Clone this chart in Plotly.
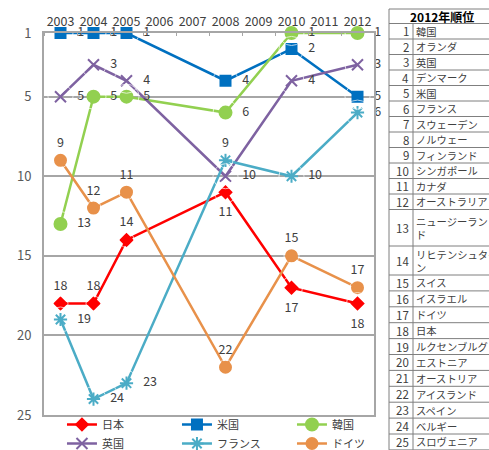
import plotly.graph_objects as go

years = [2003, 2004, 2005, 2008, 2010, 2012]
all_years = list(range(2003, 2013))

japan = [18, 18, 14, 11, 17, 18]
usa = [1, 1, 1, 4, 2, 5]
korea = [13, 5, 5, 6, 1, 1]
uk = [5, 3, 4, 10, 4, 3]
france = [19, 24, 23, 9, 10, 6]
germany = [9, 12, 11, 22, 15, 17]

rank_ticks = [1, 5, 10, 15, 20, 25]

table_title = "2012年順位"
table_ranks = list(range(1, 26))
table_names = ["韓国", "オランダ", "英国", "デンマーク", "米国", "フランス", "スウェーデン",
               "ノルウェー", "フィンランド", "シンガポール", "カナダ", "オーストラリア",
               "ニュージーラン<br>ド", "リヒテンシュタイ<br>ン", "スイス", "イスラエル", "ドイツ",
               "日本", "ルクセンブルグ", "エストニア", "オーストリア", "アイスランド",
               "スペイン", "ベルギー", "スロヴェニア"]

FONT = "Noto Sans CJK JP, Noto Sans, sans-serif"
TXT = "#404040"

T_, B_, R_ = "top center", "bottom center", "middle right"
series = [
    ("日本", japan, "#FF0000", "diamond", 9, [T_] * 3 + [B_] * 3),
    ("米国", usa, "#0070C0", "square", 10, [R_] * 6),
    ("韓国", korea, "#92D050", "circle", 12, [R_] * 6),
    ("英国", uk, "#7E62A1", "x-thin-open", 11, [R_] * 6),
    ("フランス", france, "#4BACC6", "asterisk-open", 11, [R_] * 3 + [T_] + [R_] * 2),
    ("ドイツ", germany, "#E8914A", "circle", 11, [T_] * 6),
]
# invisible label-anchor sizes controlling the label offset from each point
label_gap = {T_: 15, B_: 22, R_: 25}

fig = go.Figure()
for name, vals, color, sym, size, pos in series:
    fig.add_trace(go.Scatter(
        x=years, y=vals, name=name, mode="lines+markers",
        line=dict(color=color, width=2.5),
        marker=dict(symbol=sym, size=size, color=color,
                    line=dict(color=color, width=2)),
        cliponaxis=False, hoverinfo="skip",
    ))
for name, vals, color, sym, size, pos in series:
    fig.add_trace(go.Scatter(
        x=years, y=vals, name=name, mode="markers+text", showlegend=False,
        text=[str(v) for v in vals], textposition=pos,
        textfont=dict(family=FONT, size=12.5, color=TXT),
        marker=dict(size=[label_gap[p] for p in pos], color="rgba(0,0,0,0)"),
        cliponaxis=False, hoverinfo="skip",
    ))

W, H = 489, 450
L, R, T, B = 44, 115, 33, 35
PW, PH = W - L - R, H - T - B


def px(x):
    return (x - L) / PW


def py(y):
    return (H - B - y) / PH


shapes = []
annots = []
# table geometry (pixels)
tx0, tdiv, tx1 = 389, 413, 520
row_edges = [9, 23.5]
for i in range(12):
    row_edges.append(23.5 + (i + 1) * 15.5)
row_edges.append(246)
row_edges.append(275)
for i in range(11):
    row_edges.append(275 + (i + 1) * 15.9)

lc = "#7F7F7F"
for y in row_edges:
    shapes.append(dict(type="line", xref="paper", yref="paper",
                       x0=px(tx0), x1=px(tx1), y0=py(y), y1=py(y),
                       line=dict(color=lc, width=1)))
shapes.append(dict(type="line", xref="paper", yref="paper",
                   x0=px(tx0), x1=px(tx0), y0=py(row_edges[0]), y1=py(row_edges[-1]),
                   line=dict(color=lc, width=1)))
shapes.append(dict(type="line", xref="paper", yref="paper",
                   x0=px(tdiv), x1=px(tdiv), y0=py(row_edges[1]), y1=py(row_edges[-1]),
                   line=dict(color=lc, width=1)))

annots.append(dict(xref="paper", yref="paper", x=px(442), y=py((row_edges[0] + row_edges[1]) / 2),
                   text="<b>" + table_title + "</b>", showarrow=False,
                   font=dict(family=FONT, size=12, color="#000000"),
                   xanchor="center", yanchor="middle"))
for i, (r, n) in enumerate(zip(table_ranks, table_names)):
    y0, y1 = row_edges[i + 1], row_edges[i + 2]
    ym = (y0 + y1) / 2
    annots.append(dict(xref="paper", yref="paper", x=px(411), y=py(ym), text=str(r),
                       showarrow=False, xanchor="right", yanchor="middle",
                       font=dict(family=FONT, size=11.5, color=TXT)))
    annots.append(dict(xref="paper", yref="paper", x=px(414), y=py(ym), text=n,
                       showarrow=False, xanchor="left", yanchor="middle", align="left",
                       font=dict(family=FONT, size=10.3, color=TXT)))

fig.update_layout(
    width=W, height=H,
    margin=dict(l=L, r=R, t=T, b=B, autoexpand=False),
    paper_bgcolor="white", plot_bgcolor="white",
    font=dict(family=FONT, size=12, color=TXT),
    showlegend=True,
    legend=dict(orientation="h", xref="paper", yref="paper",
                x=-0.0001, y=py(458), xanchor="left", yanchor="bottom",
                indentation=18, entrywidth=52, entrywidthmode="pixels",
                traceorder="normal",
                font=dict(family=FONT, size=11, color=TXT),
                bgcolor="rgba(0,0,0,0)", itemwidth=30, tracegroupgap=0),
    xaxis=dict(side="top", range=[2002.5, 2012.5], tickmode="array",
               tickvals=all_years, ticktext=[str(y) for y in all_years],
               showgrid=False, zeroline=False, showline=True, mirror=True,
               linecolor="#A6A6A6", linewidth=2, ticks="",
               minor=dict(ticks="inside", tick0=2002.5, dtick=1, ticklen=3,
                          tickcolor="#A6A6A6", showgrid=False),
               tickfont=dict(family=FONT, size=12.5, color=TXT)),
    yaxis=dict(range=[25, 1], tickmode="array", tickvals=rank_ticks,
               showgrid=True, gridcolor="#A6A6A6", gridwidth=2, zeroline=False,
               showline=True, mirror=True, linecolor="#A6A6A6", linewidth=2,
               ticks="", ticklabelstandoff=8,
               tickfont=dict(family=FONT, size=13, color="#595959")),
    shapes=shapes, annotations=annots,
)

fig.write_html(
    "out.html",
    config={"displayModeBar": False},
    post_script="document.body.style.margin='0px';document.body.style.overflow='hidden';",
)
